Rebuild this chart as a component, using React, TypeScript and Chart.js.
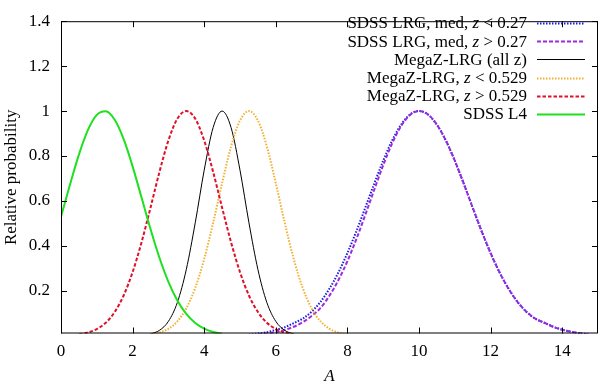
import React, { useEffect, useRef } from "react";
import { Chart, registerables } from "chart.js";

Chart.register(...registerables);

// ---- Data ----
const xTicks = [0, 2, 4, 6, 8, 10, 12, 14];
const yTicks = [0.2, 0.4, 0.6, 0.8, 1.0, 1.2, 1.4];

const seriesLabels = [
  "SDSS LRG, med, z < 0.27",
  "SDSS LRG, med, z > 0.27",
  "MegaZ-LRG (all z)",
  "MegaZ-LRG, z < 0.529",
  "MegaZ-LRG, z > 0.529",
  "SDSS L4",
];

const lrgLowA = [5.25, 5.5, 5.75, 6.0, 6.25, 6.5, 6.75, 7.0, 7.25, 7.5, 7.75, 8.0, 8.25, 8.5, 8.75, 9.0, 9.25, 9.5, 9.75, 10.0, 10.25, 10.5, 10.75, 11.0, 11.25, 11.5, 11.75, 12.0, 12.25, 12.5, 12.75, 13.0, 13.25, 13.5, 13.75, 14.0, 14.25, 14.5, 14.75];
const lrgLowP = [0.006, 0.010, 0.016, 0.026, 0.038, 0.056, 0.076, 0.107, 0.151, 0.210, 0.282, 0.368, 0.465, 0.570, 0.677, 0.779, 0.869, 0.939, 0.985, 1.0, 0.985, 0.939, 0.869, 0.779, 0.677, 0.570, 0.465, 0.368, 0.282, 0.210, 0.151, 0.107, 0.076, 0.058, 0.040, 0.027, 0.018, 0.011, 0.006];

const lrgHighA = [5.5, 5.75, 6.0, 6.25, 6.5, 6.75, 7.0, 7.25, 7.5, 7.75, 8.0, 8.25, 8.5, 8.75, 9.0, 9.25, 9.5, 9.75, 10.0, 10.25, 10.5, 10.75, 11.0, 11.25, 11.5, 11.75, 12.0, 12.25, 12.5, 12.75, 13.0, 13.25, 13.5, 13.75, 14.0, 14.25, 14.5, 14.75];
const lrgHighP = [0.006, 0.010, 0.016, 0.026, 0.040, 0.060, 0.088, 0.124, 0.179, 0.248, 0.332, 0.430, 0.538, 0.650, 0.759, 0.856, 0.933, 0.983, 1.0, 0.985, 0.939, 0.869, 0.779, 0.677, 0.570, 0.465, 0.368, 0.282, 0.210, 0.151, 0.107, 0.076, 0.058, 0.040, 0.027, 0.018, 0.011, 0.006];

const megaAllA = [2.5, 2.75, 3.0, 3.25, 3.5, 3.75, 4.0, 4.25, 4.5, 4.75, 5.0, 5.25, 5.5, 5.75, 6.0, 6.25, 6.5];
const megaAllP = [0.0076, 0.024, 0.064, 0.148, 0.295, 0.503, 0.737, 0.927, 1.0, 0.927, 0.737, 0.503, 0.295, 0.148, 0.064, 0.024, 0.0076];

const megaLowA = [2.5, 2.75, 3.0, 3.25, 3.5, 3.75, 4.0, 4.25, 4.5, 4.75, 5.0, 5.25, 5.5, 5.75, 6.0, 6.25, 6.5, 6.75, 7.0, 7.25, 7.5, 7.75, 8.0];
const megaLowP = [0.0055, 0.0136, 0.031, 0.064, 0.122, 0.213, 0.342, 0.503, 0.679, 0.842, 0.958, 1.0, 0.958, 0.842, 0.679, 0.503, 0.342, 0.213, 0.122, 0.064, 0.031, 0.0136, 0.0055];

const megaHighA = [0.5, 0.75, 1.0, 1.25, 1.5, 1.75, 2.0, 2.25, 2.5, 2.75, 3.0, 3.25, 3.5, 3.75, 4.0, 4.25, 4.5, 4.75, 5.0, 5.25, 5.5, 5.75, 6.0, 6.25, 6.5];
const megaHighP = [0.0064, 0.0143, 0.030, 0.058, 0.106, 0.179, 0.283, 0.416, 0.570, 0.729, 0.869, 0.966, 1.0, 0.966, 0.869, 0.729, 0.570, 0.416, 0.283, 0.179, 0.106, 0.058, 0.030, 0.0143, 0.0064];

const l4A = [0, 0.25, 0.5, 0.75, 1.0, 1.25, 1.5, 1.75, 2.0, 2.25, 2.5, 2.75, 3.0, 3.25, 3.5, 3.75, 4.0, 4.25, 4.5];
const l4P = [0.530, 0.672, 0.806, 0.915, 0.983, 0.999, 0.961, 0.875, 0.754, 0.615, 0.475, 0.347, 0.240, 0.157, 0.097, 0.057, 0.0315, 0.0165, 0.0082];

const pts = (a: number[], p: number[]) => a.map((x, i) => ({ x, y: p[i] }));

const FONT = "'Liberation Serif', 'DejaVu Serif', serif";

const styles = [
  { color: "#1a1ae6", dash: [1.5, 1.5], width: 2 },
  { color: "#9a2be0", dash: [4, 2], width: 2 },
  { color: "#000000", dash: [] as number[], width: 1 },
  { color: "#f0b030", dash: [1.5, 1.5], width: 2 },
  { color: "#e0102a", dash: [3.5, 2], width: 2 },
  { color: "#1ee01e", dash: [] as number[], width: 2 },
];

const framePlugin = {
  id: "gnuplotFrame",
  afterDatasetsDraw(chart: any) {
    const { ctx, chartArea: ca, scales } = chart;
    const xs = scales.x;
    const ys = scales.y;
    ctx.save();
    ctx.strokeStyle = "#000";
    ctx.lineWidth = 1;
    ctx.setLineDash([]);
    ctx.strokeRect(ca.left + 0.5, ca.top + 0.5, ca.right - ca.left - 1, ca.bottom - ca.top - 1);
    const tl = 6;
    ctx.beginPath();
    xTicks.forEach((v) => {
      const px = Math.round(xs.getPixelForValue(v)) + 0.5;
      ctx.moveTo(px, ca.bottom);
      ctx.lineTo(px, ca.bottom - tl);
      ctx.moveTo(px, ca.top);
      ctx.lineTo(px, ca.top + tl);
    });
    yTicks.forEach((v) => {
      const py = Math.round(ys.getPixelForValue(v)) + 0.5;
      ctx.moveTo(ca.left, py);
      ctx.lineTo(ca.left + tl, py);
      ctx.moveTo(ca.right, py);
      ctx.lineTo(ca.right - tl, py);
    });
    ctx.stroke();

    // axis titles
    ctx.fillStyle = "#000";
    ctx.font = `17px ${FONT}`;
    ctx.textAlign = "center";
    ctx.textBaseline = "middle";
    ctx.save();
    ctx.translate(12, (ca.top + ca.bottom) / 2);
    ctx.rotate(-Math.PI / 2);
    ctx.fillText("Relative probability", 0, 0);
    ctx.restore();
    ctx.font = `italic 17px ${FONT}`;
    ctx.fillText("A", (ca.left + ca.right) / 2, 377);

    // legend (right-aligned text, sample on the right)
    const textRight = 527;
    const sx0 = 537;
    const sx1 = 585;
    chart.data.datasets.forEach((ds: any, i: number) => {
      const cy = 23 + i * 18.2;
      const label: string = ds.label;
      const parts = label.split(/(\bz(?= [<>]))/);
      let total = 0;
      const widths = parts.map((p: string, k: number) => {
        ctx.font = (k % 2 === 1 ? "italic " : "") + `17px ${FONT}`;
        const w = ctx.measureText(p).width;
        total += w;
        return w;
      });
      let x = textRight - total;
      ctx.textAlign = "left";
      ctx.textBaseline = "middle";
      parts.forEach((p: string, k: number) => {
        ctx.font = (k % 2 === 1 ? "italic " : "") + `17px ${FONT}`;
        ctx.fillText(p, x, cy + 1);
        x += widths[k];
      });
      ctx.strokeStyle = ds.borderColor;
      ctx.lineWidth = ds.borderWidth;
      ctx.setLineDash(ds.borderDash || []);
      ctx.beginPath();
      ctx.moveTo(sx0, Math.round(cy) + 0.5);
      ctx.lineTo(sx1, Math.round(cy) + 0.5);
      ctx.stroke();
    });
    ctx.restore();
  },
};

export default function App() {
  const ref = useRef<HTMLCanvasElement | null>(null);
  useEffect(() => {
    document.body.style.margin = "0";
    const canvas = ref.current;
    if (!canvas) return;
    const seriesData = [
      pts(lrgLowA, lrgLowP),
      pts(lrgHighA, lrgHighP),
      pts(megaAllA, megaAllP),
      pts(megaLowA, megaLowP),
      pts(megaHighA, megaHighP),
      pts(l4A, l4P),
    ];
    const chart = new Chart(canvas, {
      type: "line",
      data: {
        datasets: seriesData.map((d, i) => ({
          label: seriesLabels[i],
          data: d,
          borderColor: styles[i].color,
          backgroundColor: styles[i].color,
          borderWidth: styles[i].width,
          borderDash: styles[i].dash,
          pointRadius: 0,
          fill: false,
          cubicInterpolationMode: "monotone" as const,
          order: 5 - i,
        })),
      },
      options: {
        responsive: false,
        animation: false,
        devicePixelRatio: 1,
        layout: { padding: { top: 10, right: 2, left: 0, bottom: 0 } },
        plugins: { legend: { display: false }, tooltip: { enabled: false } },
        scales: {
          x: {
            type: "linear",
            min: 0,
            max: 15,
            grid: { display: false, drawTicks: false },
            border: { display: false },
            afterBuildTicks: (s: any) => {
              s.ticks = xTicks.map((v) => ({ value: v }));
            },
            afterFit: (s: any) => {
              s.height = 52.5;
            },
            ticks: {
              autoSkip: false,
              maxRotation: 0,
              padding: 8,
              color: "#000",
              font: { family: FONT, size: 17 },
              callback: (v: any) => String(Number(Number(v).toFixed(2))),
            },
          },
          y: {
            type: "linear",
            min: 0.01,
            max: 1.4,
            grid: { display: false, drawTicks: false },
            border: { display: false },
            afterBuildTicks: (s: any) => {
              s.ticks = yTicks.map((v) => ({ value: v }));
            },
            afterFit: (s: any) => {
              s.width = 61;
            },
            ticks: {
              autoSkip: false,
              padding: 11,
              color: "#000",
              font: { family: FONT, size: 17 },
              callback: (v: any) => String(Number(Number(v).toFixed(2))),
            },
          },
        },
      },
      plugins: [framePlugin],
    } as any);
    return () => chart.destroy();
  }, []);
  return (
    <canvas
      ref={ref}
      width={600}
      height={386}
      style={{ display: "block", width: 600, height: 386 }}
    />
  );
}
